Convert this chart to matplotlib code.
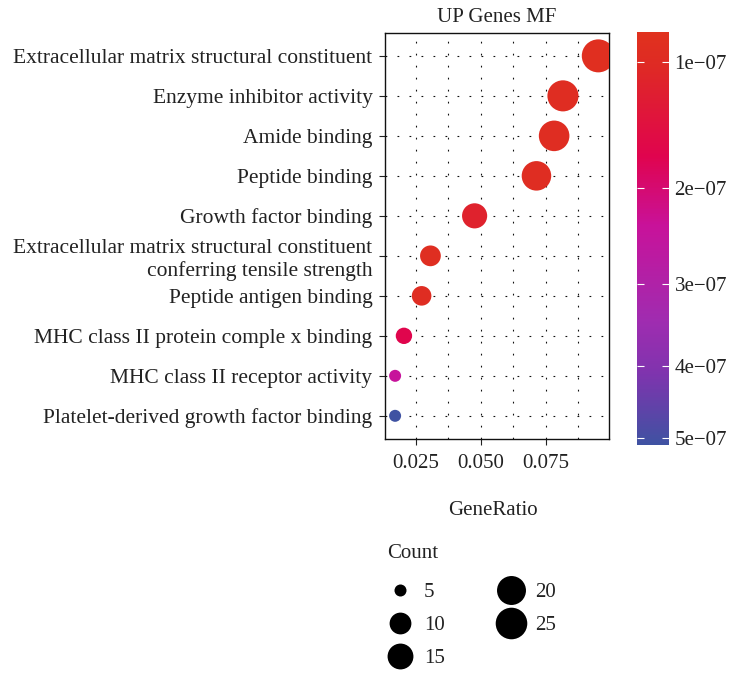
import numpy as np
import matplotlib
matplotlib.use("Agg")
import matplotlib.pyplot as plt
from matplotlib.colors import LinearSegmentedColormap, FuncNorm
from matplotlib.lines import Line2D

plt.rcParams['font.family'] = ['Liberation Serif', 'DejaVu Serif']

# data, top row first
terms = [
    "Extracellular matrix structural constituent",
    "Enzyme inhibitor activity",
    "Amide binding",
    "Peptide binding",
    "Growth factor binding",
    "Extracellular matrix structural constituent\nconferring tensile strength",
    "Peptide antigen binding",
    "MHC class II protein comple x binding",
    "MHC class II receptor activity",
    "Platelet-derived growth factor binding",
]
gene_ratio = [0.0952, 0.0816, 0.0782, 0.0714, 0.0476, 0.0306, 0.0272, 0.0204, 0.0170, 0.0170]
counts = [28, 24, 23, 21, 14, 9, 8, 6, 5, 5]
p_adjust = [0.88e-7, 0.95e-7, 0.95e-7, 0.95e-7, 1.15e-7, 0.92e-7, 0.95e-7, 1.7e-7, 2.4e-7, 5.1e-7]
x_ticks = [0.025, 0.050, 0.075]
x_ticklabels = ["0.025", "0.050", "0.075"]
cbar_ticks = [1e-7, 2e-7, 3e-7, 4e-7, 5e-7]
cbar_ticklabels = ["1e\u221207", "2e\u221207", "3e\u221207", "4e\u221207", "5e\u221207"]
legend_counts = [5, 10, 15, 20, 25]

DPI = 100
TXT = '#222222'
cmin, cmax = min(counts), max(counts)


def size_of(c):
    # ggplot-like area scale: diameter 12..33 px
    d_px = 12 + 21 * np.sqrt((c - cmin) / (cmax - cmin))
    d_pt = d_px * 72 / DPI
    return d_pt ** 2


cmap = LinearSegmentedColormap.from_list("padj", [
    (0.00, "#E0321E"),
    (0.08, "#DF2A24"),
    (0.30, "#E0044E"),
    (0.47, "#C8129A"),
    (0.70, "#A02CB0"),
    (0.83, "#7E34AE"),
    (1.00, "#3F52A2"),
])
vmin, vmax = 0.81e-7, 5.11e-7
norm = FuncNorm((lambda v: np.sqrt(np.clip(v, 0, None)), lambda v: v ** 2), vmin=vmin, vmax=vmax)

fig = plt.figure(figsize=(7.33, 6.75), dpi=DPI)
ax = fig.add_axes([0.5252, 0.3496, 0.3052, 0.602])

ypos = np.arange(len(terms))[::-1]
sizes = [size_of(c) for c in counts]
sc = ax.scatter(gene_ratio, ypos, s=sizes, c=p_adjust, cmap=cmap, norm=norm,
                linewidths=0, zorder=3)

ax.set_xlim(0.0131, 0.0992)
ax.set_ylim(-0.58, len(terms) - 1 + 0.58)
ax.set_xticks(x_ticks)
ax.set_xticklabels(x_ticklabels)
ax.set_xticks([0.0375, 0.0625, 0.0875], minor=True)
ax.set_yticks(ypos)
ax.set_yticklabels(terms)

dot = (0, (1.6, 9.2))
ax.grid(True, which='major', axis='both', color='#111111', linestyle=dot, linewidth=0.8)
ax.grid(True, which='minor', axis='x', color='#111111', linestyle=dot, linewidth=0.8)
ax.set_axisbelow(True)

ax.tick_params(axis='y', which='major', labelsize=15.5, colors=TXT,
               length=4, width=0.8, pad=5)
ax.tick_params(axis='x', which='major', labelsize=15, colors=TXT,
               length=4, width=0.8, pad=7)
ax.tick_params(axis='x', which='minor', length=0)
for sp in ax.spines.values():
    sp.set_color('#111111')
    sp.set_linewidth(1.0)

ax.set_title("UP Genes MF", fontsize=15, color=TXT, pad=8)
fig.text(0.672, 0.244, "GeneRatio", fontsize=15, color=TXT, ha='center', va='center')

# colorbar
cax = fig.add_axes([0.8686, 0.3407, 0.0441, 0.6123])
cb = fig.colorbar(sc, cax=cax)
cb.set_ticks(cbar_ticks)
cb.set_ticklabels(cbar_ticklabels)
cax.invert_yaxis()
cb.outline.set_visible(False)
cax.tick_params(left=True, right=True, direction='in', color='white', length=5,
                width=0.8, labelsize=15, labelcolor=TXT, pad=4)

# size legend
handles = [Line2D([], [], linestyle='none', marker='o', color='black',
                  markersize=np.sqrt(size_of(c)), markeredgewidth=0) for c in legend_counts]
leg = fig.legend(handles, [str(c) for c in legend_counts], title="Count", ncol=2,
                 loc='upper left', bbox_to_anchor=(0.508, 0.216), frameon=False,
                 fontsize=15, title_fontsize=15, handlelength=1.25, handletextpad=0.53,
                 columnspacing=2.55, labelspacing=0.65, borderpad=0.2)
leg._legend_box.align = "left"
leg._legend_box.sep = 14
for t in leg.get_texts():
    t.set_color(TXT)
leg.get_title().set_color(TXT)

fig.savefig("out.png", dpi=DPI)
